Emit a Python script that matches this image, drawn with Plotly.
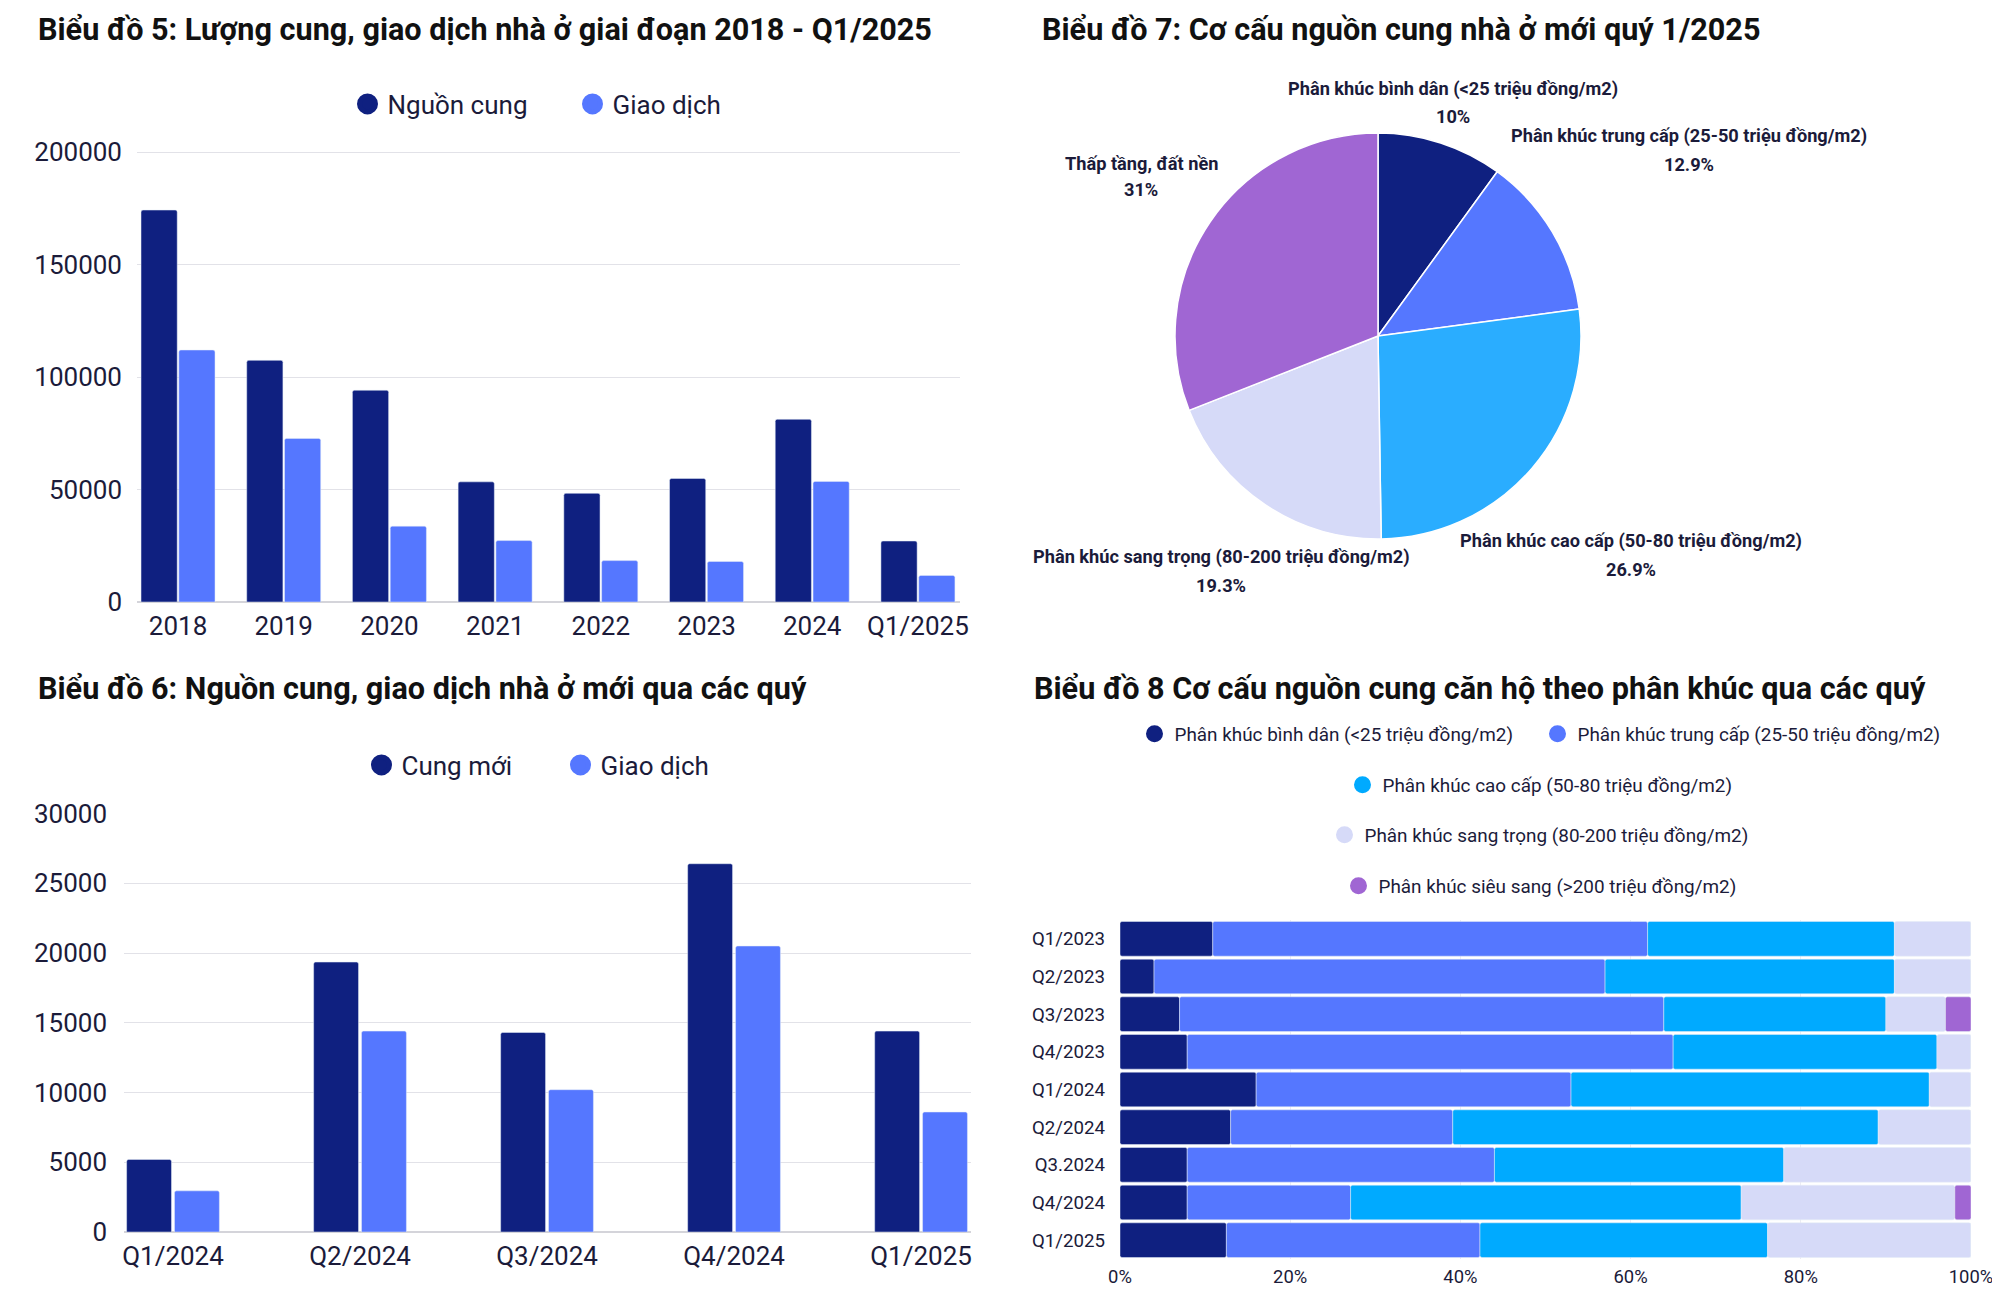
import numpy as np
import plotly.graph_objects as go

# figure size: the page body adds an 8px margin before the figure
W, H = 1992, 1296

# ---------------- DATA ----------------
# Chart 5
c5_categories = ["2018", "2019", "2020", "2021", "2022", "2023", "2024", "Q1/2025"]
c5_supply = [174200, 107400, 94100, 53400, 48300, 54900, 81200, 27100]
c5_sales = [112000, 72700, 33700, 27300, 18400, 18000, 53600, 11800]
c5_series = ["Nguồn cung", "Giao dịch"]
c5_ticks = [0, 50000, 100000, 150000, 200000]

# Chart 6
c6_categories = ["Q1/2024", "Q2/2024", "Q3/2024", "Q4/2024", "Q1/2025"]
c6_supply = [5200, 19350, 14300, 26400, 14400]
c6_sales = [2950, 14400, 10200, 20500, 8600]
c6_series = ["Cung mới", "Giao dịch"]
c6_ticks = [0, 5000, 10000, 15000, 20000, 25000, 30000]

# Chart 7
c7_labels = [
    "Phân khúc bình dân (<25 triệu đồng/m2)",
    "Phân khúc trung cấp (25-50 triệu đồng/m2)",
    "Phân khúc cao cấp (50-80 triệu đồng/m2)",
    "Phân khúc sang trọng (80-200 triệu đồng/m2)",
    "Thấp tầng, đất nền",
]
c7_values = [10, 12.9, 26.9, 19.3, 31]

# Chart 8
c8_categories = ["Q1/2023", "Q2/2023", "Q3/2023", "Q4/2023", "Q1/2024",
                 "Q2/2024", "Q3.2024", "Q4/2024", "Q1/2025"]
c8_segments = [
    "Phân khúc bình dân (<25 triệu đồng/m2)",
    "Phân khúc trung cấp (25-50 triệu đồng/m2)",
    "Phân khúc cao cấp (50-80 triệu đồng/m2)",
    "Phân khúc sang trọng (80-200 triệu đồng/m2)",
    "Phân khúc siêu sang (>200 triệu đồng/m2)",
]
c8_binhdan = [10.9, 4.0, 7.0, 7.9, 16.0, 13.0, 7.9, 7.9, 12.5]
c8_trungcap = [51.1, 53.0, 56.9, 57.1, 37.0, 26.1, 36.1, 19.2, 29.8]
c8_caocap = [29.0, 34.0, 26.1, 31.0, 42.1, 50.0, 34.0, 45.9, 33.8]
c8_sangtrong = [9.0, 9.0, 7.0, 4.0, 4.9, 10.9, 22.0, 25.1, 23.9]
c8_sieusang = [0, 0, 3.0, 0, 0, 0, 0, 1.9, 0]
c8_ticks = [0, 20, 40, 60, 80, 100]

titles = [
    "Biểu đồ 5: Lượng cung, giao dịch nhà ở giai đoạn 2018 - Q1/2025",
    "Biểu đồ 7: Cơ cấu nguồn cung nhà ở mới quý 1/2025",
    "Biểu đồ 6: Nguồn cung, giao dịch nhà ở mới qua các quý",
    "Biểu đồ 8 Cơ cấu nguồn cung căn hộ theo phân khúc qua các quý",
]

# ---------------- STYLE ----------------
NAVY = "#0f2080"
BLUE = "#5577ff"
CYAN = "#00aaff"
LAV = "#d6daf8"
PURPLE = "#a066d3"
TXT = "#1b1b3a"
GRID = "#e2e2e8"
FONT = "Roboto"

OFF = 8.0  # body margin of the page


def fxp(x):
    return x - OFF


def fyp(y):
    return y - OFF


def px(x):
    return fxp(x) / W


def py(y):
    return 1 - fyp(y) / H


fig = go.Figure()

# ---- Chart 5 bars ----
for vals, col, off in [(c5_supply, NAVY, -0.35), (c5_sales, BLUE, 0.0075)]:
    fig.add_trace(go.Bar(x=c5_categories, y=vals, marker_color=col, width=0.3425,
                         offset=off, xaxis="x", yaxis="y", showlegend=False))
for name, col in zip(c5_series, [NAVY, BLUE]):
    fig.add_trace(go.Scatter(x=[None], y=[None], mode="markers", name=name,
                             marker=dict(size=16, color=col, line=dict(width=5, color=col)),
                             xaxis="x", yaxis="y", legend="legend"))

# ---- Chart 6 bars ----
for vals, col, off in [(c6_supply, NAVY, -0.248), (c6_sales, BLUE, 0.008)]:
    fig.add_trace(go.Bar(x=c6_categories, y=vals, marker_color=col, width=0.24,
                         offset=off, xaxis="x2", yaxis="y2", showlegend=False))
for name, col in zip(c6_series, [NAVY, BLUE]):
    fig.add_trace(go.Scatter(x=[None], y=[None], mode="markers", name=name,
                             marker=dict(size=16, color=col, line=dict(width=5, color=col)),
                             xaxis="x2", yaxis="y2", legend="legend2"))

# ---- Chart 7 pie ----
pie_colors = [NAVY, BLUE, "#2aadff", LAV, PURPLE]
cx, cy, r = 1378, 336, 203
fig.add_trace(go.Pie(labels=c7_labels, values=c7_values, sort=False, direction="clockwise",
                     rotation=0, textinfo="none", showlegend=False,
                     marker=dict(colors=pie_colors, line=dict(color="white", width=1.5)),
                     domain=dict(x=[px(cx - r), px(cx + r)], y=[py(cy + r), py(cy - r)])))

# ---- Chart 8 stacked bars ----
c8_data = [c8_binhdan, c8_trungcap, c8_caocap, c8_sangtrong, c8_sieusang]
c8_colors = [NAVY, BLUE, CYAN, LAV, PURPLE]
c8_legends = ["legend3", "legend4", "legend5", "legend6", "legend7"]
base = np.zeros(len(c8_categories))
for vals, col in zip(c8_data, c8_colors):
    v = np.array(vals, dtype=float)
    fig.add_trace(go.Bar(y=c8_categories, x=v, base=base.copy(), orientation="h",
                         marker_color=col, width=0.92, offset=-0.46,
                         xaxis="x3", yaxis="y3", showlegend=False))
    base = base + v
for name, col, lg in zip(c8_segments, c8_colors, c8_legends):
    fig.add_trace(go.Scatter(x=[None], y=[None], mode="markers", name=name,
                             marker=dict(size=15, color=col, line=dict(width=2, color=col)),
                             xaxis="x3", yaxis="y3", legend=lg))

tickfont = dict(family=FONT, size=26, color=TXT)
leg_big = dict(family=FONT, size=26, color=TXT)
leg_small = dict(family=FONT, size=18.9, color=TXT)
SYM = 19.5  # legend symbol centre offset from legend x (px)


def legend_at(cx_ref, cy_ref, font, entrywidth=None):
    d = dict(orientation="h", x=(fxp(cx_ref) - SYM) / W, y=py(cy_ref), xanchor="left",
             yanchor="middle", font=font, bgcolor="rgba(0,0,0,0)")
    if entrywidth is not None:
        d["entrywidth"] = entrywidth
    return d


# chart 5 y axis: 0 at y=602, 200000 at y=152 (target px); range a bit above the top tick
c5_top = 202000
c5_dom_top = 602 - (602 - 152) * c5_top / 200000

layout = dict(
    width=W, height=H, margin=dict(l=0, r=0, t=0, b=0),
    paper_bgcolor="white", plot_bgcolor="rgba(0,0,0,0)",
    barmode="overlay", barcornerradius=2,
    font=dict(family=FONT, color=TXT),
    xaxis=dict(domain=[px(137), px(960)], type="category", range=[-0.388, 7.398],
               showgrid=False, showline=False, ticks="", tickfont=tickfont,
               ticklabelstandoff=6, anchor="y", automargin=False),
    yaxis=dict(domain=[py(602), py(c5_dom_top)], range=[0, c5_top],
               tickvals=c5_ticks, tickformat="d",
               gridcolor=GRID, zeroline=True, zerolinecolor="#d4d4da", showline=False,
               ticks="", tickfont=tickfont, ticklabelstandoff=14, anchor="x", automargin=False),
    xaxis2=dict(domain=[px(124), px(971)], type="category", range=[-0.262, 4.267],
                showgrid=False, showline=False, ticks="", tickfont=tickfont,
                ticklabelstandoff=6, anchor="y2", automargin=False),
    yaxis2=dict(domain=[py(1232), py(813.5)], range=[0, 30000], tickvals=c6_ticks,
                tickformat="d",
                gridcolor=GRID, zeroline=True, zerolinecolor="#d4d4da", showline=False,
                ticks="", tickfont=tickfont, ticklabelstandoff=16, anchor="x2", automargin=False),
    xaxis3=dict(domain=[px(1120), px(1971)], range=[0, 100], tickvals=c8_ticks,
                ticktext=[f"{t}%" for t in c8_ticks], gridcolor="#ececf2", zeroline=False,
                showline=False, ticks="", tickfont=dict(family=FONT, size=18.4, color=TXT),
                ticklabelstandoff=5, ticklabeloverflow="allow", anchor="y3", automargin=False),
    yaxis3=dict(domain=[py(1259), py(920)], type="category", categoryorder="array",
                categoryarray=c8_categories, autorange="reversed", showgrid=False,
                showline=False, ticks="", tickfont=dict(family=FONT, size=18.7, color=TXT),
                ticklabelstandoff=14, anchor="x3", automargin=False),
    legend=legend_at(367, 104, leg_big, entrywidth=180),
    legend2=legend_at(381, 765, leg_big, entrywidth=154),
    legend3=legend_at(1154, 734, leg_small),
    legend4=legend_at(1557, 734, leg_small),
    legend5=legend_at(1362, 785, leg_small),
    legend6=legend_at(1344, 835, leg_small),
    legend7=legend_at(1358, 886, leg_small),
)

annotations = []
title_pos = [(36, 29.5), (1040, 29.5), (36, 689), (1032, 689)]
for t, (x, y) in zip(titles, title_pos):
    annotations.append(dict(text=t, x=px(x), y=py(y), xref="paper", yref="paper",
                            xanchor="left", yanchor="middle", showarrow=False,
                            font=dict(family=FONT, size=30.6, color="#111111", weight="bold")))

# pie label positions in target pixels (centre x, name line y, value line y)
pie_label_pos = [(1453, 89, 117), (1689, 136.5, 164.5), (1631, 541, 569),
                 (1221, 557, 585.5), (1141, 163, 189)]
for lab, val, (x, y1, y2) in zip(c7_labels, c7_values, pie_label_pos):
    for txt, yy in [(lab, y1), (f"{val:g}%", y2)]:
        annotations.append(dict(text=txt, x=px(x), y=py(yy), xref="paper", yref="paper",
                                xanchor="center", yanchor="middle", showarrow=False,
                                font=dict(family=FONT, size=18.2, color=TXT, weight="bold")))
layout["annotations"] = annotations

fig.update_layout(**layout)
fig.write_html("out.html")
